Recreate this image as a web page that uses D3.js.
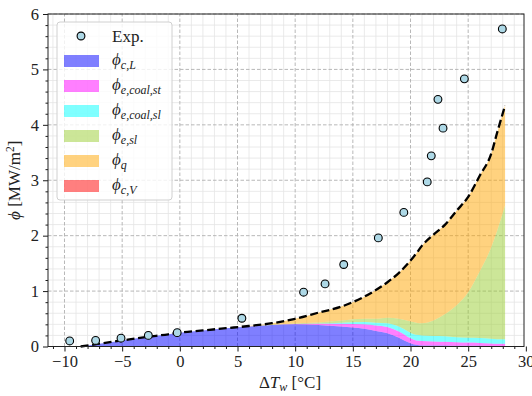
<!DOCTYPE html>
<html>
<head>
<meta charset="utf-8">
<script src="https://cdn.jsdelivr.net/npm/d3@7"></script>
<style>
  html, body { margin: 0; padding: 0; background: #fff; }
  svg { display: block; }
  svg text { font-family: "Liberation Serif", "DejaVu Serif", serif; }
</style>
</head>
<body>
<svg id="chart" width="532" height="396"></svg>
<script>
// Wall superheat (°C) at which the partitioned heat-flux components are evaluated
const dTw = [-8.6, -7, -5, -3, -1, 0, 2, 4, 6, 8, 10, 12, 14, 16, 17, 18, 19, 20, 20.5, 21, 22, 23, 24, 25, 26, 27, 27.5, 28.2];

// Heat-flux components, MW/m^2 (stacked bottom to top)
const phiCL      = [0, 0.05, 0.11, 0.17, 0.22, 0.25, 0.29, 0.33, 0.36, 0.39, 0.40, 0.39, 0.36, 0.32, 0.28, 0.24, 0.16, 0.06, 0.03, 0.02, 0.02, 0.02, 0.015, 0.015, 0.015, 0.01, 0.01, 0.01];
const phiECoalSt = [0, 0, 0, 0, 0, 0, 0, 0, 0, 0, 0.005, 0.02, 0.05, 0.08, 0.10, 0.11, 0.11, 0.09, 0.08, 0.08, 0.07, 0.065, 0.06, 0.055, 0.05, 0.045, 0.04, 0.04];
const phiECoalSl = [0, 0, 0, 0, 0, 0, 0, 0, 0, 0, 0, 0.005, 0.02, 0.04, 0.05, 0.07, 0.09, 0.10, 0.10, 0.10, 0.10, 0.10, 0.09, 0.09, 0.09, 0.085, 0.08, 0.08];
const phiESl     = [0, 0, 0, 0, 0, 0, 0, 0, 0, 0.005, 0.01, 0.02, 0.04, 0.06, 0.07, 0.10, 0.14, 0.20, 0.22, 0.22, 0.28, 0.40, 0.58, 0.82, 1.20, 1.65, 1.95, 2.42];
const phiQ       = [0, 0, 0, 0, 0, 0, 0, 0, 0.01, 0.025, 0.085, 0.175, 0.25, 0.40, 0.52, 0.64, 0.83, 1.10, 1.25, 1.40, 1.55, 1.615, 1.705, 1.72, 1.725, 1.69, 1.77, 1.80];
const phiCV      = [0, 0, 0, 0, 0, 0, 0, 0, 0, 0, 0, 0, 0, 0, 0, 0, 0, 0, 0, 0, 0, 0, 0, 0, 0, 0, 0, 0];

// Experimental data
const expDT  = [-9.55, -7.3, -5.1, -2.73, -0.23, 5.38, 10.73, 12.59, 14.21, 17.21, 19.42, 21.45, 21.8, 22.82, 22.38, 24.67, 27.96];
const expPhi = [0.10, 0.11, 0.15, 0.20, 0.25, 0.51, 0.98, 1.13, 1.48, 1.96, 2.42, 2.97, 3.44, 3.94, 4.46, 4.83, 5.73];

const xTicks = [-10, -5, 0, 5, 10, 15, 20, 25, 30];
const yTicks = [0, 1, 2, 3, 4, 5, 6];

const series = [
  { key: "cL",      values: phiCL,      color: "#0000ff", sub: "c,L" },
  { key: "eCoalSt", values: phiECoalSt, color: "#ff00ff", sub: "e,coal,st" },
  { key: "eCoalSl", values: phiECoalSl, color: "#00ffff", sub: "e,coal,sl" },
  { key: "eSl",     values: phiESl,     color: "#9acd32", sub: "e,sl" },
  { key: "q",       values: phiQ,       color: "#ffa500", sub: "q" },
  { key: "cV",      values: phiCV,      color: "#ff0000", sub: "c,V" }
];

const FONT = '"Liberation Serif", "DejaVu Serif", serif';
const svg = d3.select("#chart");
const W = 532, H = 396;
const m = { left: 48, right: 8, top: 14, bottom: 49.5 };
const pw = W - m.left - m.right, ph = H - m.top - m.bottom;

const x = d3.scaleLinear().domain([-11.43, 29.84]).range([m.left, m.left + pw]);
const y = d3.scaleLinear().domain([0, 6]).range([m.top + ph, m.top]);

const g = svg.append("g");

// Minor grid
const minorX = d3.range(-11, 30, 1).filter(v => v % 5 !== 0);
const minorY = d3.range(0, 6.001, 0.2).map(v => +v.toFixed(1)).filter(v => Math.abs(v - Math.round(v)) > 1e-6);
g.append("g").selectAll("line").data(minorX).join("line")
  .attr("x1", d => x(d)).attr("x2", d => x(d)).attr("y1", y(0)).attr("y2", y(6))
  .attr("stroke", "#e4e4e4").attr("stroke-width", 0.8);
g.append("g").selectAll("line").data(minorY).join("line")
  .attr("y1", d => y(d)).attr("y2", d => y(d)).attr("x1", x.range()[0]).attr("x2", x.range()[1])
  .attr("stroke", "#e4e4e4").attr("stroke-width", 0.8);

// Major grid
g.append("g").selectAll("line").data(xTicks.filter(v => v > -11.43 && v < 29.84)).join("line")
  .attr("x1", d => x(d)).attr("x2", d => x(d)).attr("y1", y(0)).attr("y2", y(6))
  .attr("stroke", "#b0b0b0").attr("stroke-width", 0.9).attr("stroke-dasharray", "3.5,2");
g.append("g").selectAll("line").data(yTicks).join("line")
  .attr("y1", d => y(d)).attr("y2", d => y(d)).attr("x1", x.range()[0]).attr("x2", x.range()[1])
  .attr("stroke", "#b0b0b0").attr("stroke-width", 0.9).attr("stroke-dasharray", "3.5,2");

// Stacked areas
const rows = dTw.map((t, i) => {
  const r = { t };
  series.forEach(s => r[s.key] = s.values[i]);
  return r;
});
const stack = d3.stack().keys(series.map(s => s.key));
const layers = stack(rows);
const area = d3.area()
  .x(d => x(d.data.t))
  .y0(d => y(d[0]))
  .y1(d => y(d[1]))
  .curve(d3.curveMonotoneX);

g.append("g").selectAll("path").data(layers).join("path")
  .attr("d", area)
  .attr("fill", (d, i) => series[i].color)
  .attr("fill-opacity", 0.5)
  .attr("stroke", "none");

// Total heat flux (sum of the components)
const total = rows.map(r => ({ t: r.t, v: d3.sum(series, s => r[s.key]) }));
g.append("path")
  .datum(total)
  .attr("d", d3.line().x(d => x(d.t)).y(d => y(d.v)).curve(d3.curveMonotoneX))
  .attr("fill", "none")
  .attr("stroke", "#000")
  .attr("stroke-width", 2.3)
  .attr("stroke-dasharray", "8,3.6");

// Experimental points
g.append("g").selectAll("circle").data(expDT.map((t, i) => ({ t, v: expPhi[i] }))).join("circle")
  .attr("cx", d => x(d.t)).attr("cy", d => y(d.v)).attr("r", 3.9)
  .attr("fill", "#add8e6").attr("stroke", "#000").attr("stroke-width", 1.1);

// Axes
const xAxis = d3.axisBottom(x).tickValues(xTicks).tickSize(5).tickPadding(4)
  .tickFormat(d => d < 0 ? "\u2212" + Math.abs(d) : String(d));
const xAxisMinor = d3.axisBottom(x).tickValues(minorX).tickSize(2.5).tickFormat("");
const yAxis = d3.axisLeft(y).tickValues(yTicks).tickSize(5).tickPadding(4).tickFormat(d => String(d));
const yAxisMinor = d3.axisLeft(y).tickValues(minorY).tickSize(2.5).tickFormat("");

function styleAxis(sel) {
  sel.attr("font-family", null).attr("font-size", null);
  sel.select(".domain").remove();
  sel.selectAll("line").attr("stroke", "#000").attr("stroke-width", 0.9);
  sel.selectAll("text").style("font-family", FONT)
    .style("font-size", "16.5px").attr("fill", "#222");
}
svg.append("g").attr("transform", `translate(0,${y(0)})`).call(xAxisMinor).call(styleAxis);
svg.append("g").attr("transform", `translate(0,${y(0)})`).call(xAxis).call(styleAxis);
svg.append("g").attr("transform", `translate(${x.range()[0]},0)`).call(yAxisMinor).call(styleAxis);
svg.append("g").attr("transform", `translate(${x.range()[0]},0)`).call(yAxis).call(styleAxis);

// Frame
svg.append("rect")
  .attr("x", x.range()[0]).attr("y", y(6))
  .attr("width", pw).attr("height", ph)
  .attr("fill", "none").attr("stroke", "#222").attr("stroke-width", 1);

// Axis titles
const xt = svg.append("text").attr("x", 290).attr("y", 388).attr("text-anchor", "middle")
  .style("font-size", "17px").attr("fill", "#222");
xt.append("tspan").text("\u0394");
xt.append("tspan").attr("font-style", "italic").text("T");
xt.append("tspan").attr("font-style", "italic").style("font-size", "12px").attr("dy", 3).text("w");
xt.append("tspan").attr("dy", -3).text(" [\u00B0C]");

const yt = svg.append("text").attr("transform", `translate(20,${y(3)}) rotate(-90)`).attr("text-anchor", "middle")
  .style("font-size", "17px").attr("fill", "#222");
yt.append("tspan").attr("font-style", "italic").text("\u03D5");
yt.append("tspan").text(" [MW/m");
yt.append("tspan").style("font-size", "11.5px").attr("dy", -6).text("2");
yt.append("tspan").attr("dy", 6).text("]");

// Legend
const lg = svg.append("g").attr("transform", "translate(57,22)");
lg.append("rect").attr("x", 0).attr("y", 0).attr("width", 115).attr("height", 178)
  .attr("rx", 3).attr("fill", "#fff").attr("fill-opacity", 0.8)
  .attr("stroke", "#d0d0d0").attr("stroke-width", 1);

const rowY = i => 14 + i * 25;
lg.append("circle").attr("cx", 24).attr("cy", rowY(0)).attr("r", 3.9)
  .attr("fill", "#add8e6").attr("stroke", "#000").attr("stroke-width", 1.1);
lg.append("text").attr("x", 55).attr("y", rowY(0) + 5.5).style("font-size", "17px").attr("fill", "#222").text("Exp.");

series.forEach((s, i) => {
  const cy = rowY(i + 1);
  lg.append("rect").attr("x", 7).attr("y", cy - 6).attr("width", 35).attr("height", 12)
    .attr("fill", s.color).attr("fill-opacity", 0.5);
  const t = lg.append("text").attr("x", 55).attr("y", cy + 4).style("font-size", "17px").attr("fill", "#222");
  t.append("tspan").attr("font-style", "italic").text("\u03D5");
  t.append("tspan").attr("font-style", "italic").style("font-size", "12px").attr("dy", 4).text(s.sub);
});
</script>
</body>
</html>
